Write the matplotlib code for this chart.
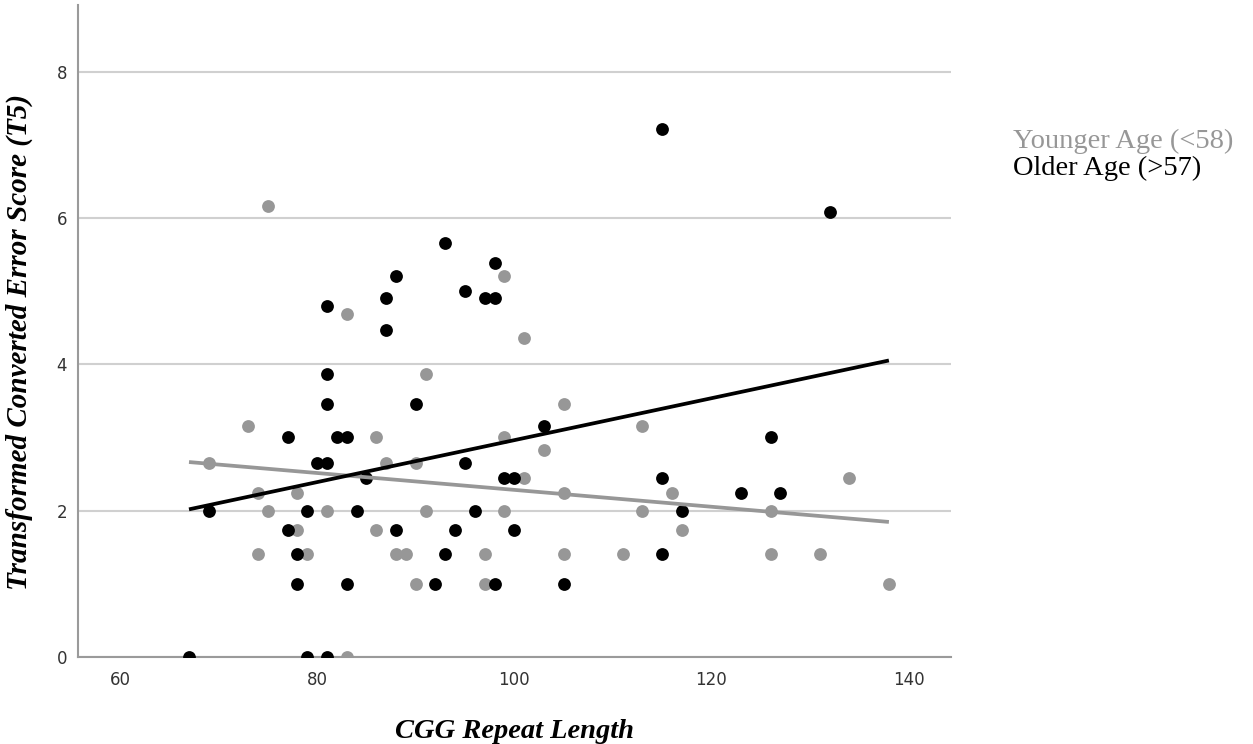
import numpy as np
import matplotlib
matplotlib.use('Agg')
import matplotlib.pyplot as plt

# Younger age group (<58): CGG repeat length vs transformed score
young_cgg = [69, 73, 74, 74, 75, 75, 78, 78, 79, 81, 83, 83, 86, 86, 87, 88, 89,
             90, 90, 91, 91, 97, 97, 99, 99, 99, 101, 101, 103, 105, 105, 105,
             111, 113, 113, 116, 117, 126, 126, 131, 134, 138]
young_score = [2.65, 3.16, 2.24, 1.41, 6.16, 2.0, 2.24, 1.73, 1.41, 2.0, 4.69, 0.0,
               3.0, 1.73, 2.65, 1.41, 1.41, 2.65, 1.0, 3.87, 2.0, 1.41, 1.0, 5.20,
               3.0, 2.0, 4.36, 2.45, 2.83, 3.46, 2.24, 1.41, 1.41, 3.16, 2.0, 2.24,
               1.73, 2.0, 1.41, 1.41, 2.45, 1.0]

# Older age group (>57)
old_cgg = [67, 69, 77, 77, 78, 78, 79, 79, 80, 81, 81, 81, 81, 81, 82, 83, 83,
           84, 85, 87, 87, 88, 88, 90, 92, 93, 93, 94, 95, 95, 96, 97, 98, 98,
           98, 99, 100, 100, 103, 105, 115, 115, 115, 117, 123, 126, 127, 132]
old_score = [0.0, 2.0, 3.0, 1.73, 1.41, 1.0, 2.0, 0.0, 2.65, 4.80, 3.87, 3.46, 2.65,
             0.0, 3.0, 3.0, 1.0, 2.0, 2.45, 4.90, 4.47, 5.20, 1.73, 3.46, 1.0,
             5.66, 1.41, 1.73, 5.0, 2.65, 2.0, 4.90, 5.39, 4.90, 1.0, 2.45, 2.45,
             1.73, 3.16, 1.0, 7.21, 2.45, 1.41, 2.0, 2.24, 3.0, 2.24, 6.08]

labels = ['Younger Age (<58)', 'Older Age (>57)']
gray = '#979797'

fig = plt.figure(figsize=(12.53, 7.44), dpi=100)
ax = fig.add_axes([78 / 1253, 87 / 744, (951 - 78) / 1253, (657 - 5) / 744])

ax.scatter(young_cgg, young_score, s=85, color=gray, linewidths=0, zorder=3)
ax.scatter(old_cgg, old_score, s=85, color='black', linewidths=0, zorder=3)

# linear fit lines over the whole x range
xr = np.array([min(young_cgg + old_cgg), max(young_cgg + old_cgg)])
for xs, ys, c in [(young_cgg, young_score, gray), (old_cgg, old_score, 'black')]:
    slope, icpt = np.polyfit(xs, ys, 1)
    ax.plot(xr, icpt + slope * xr, color=c, lw=2.7, zorder=4, solid_capstyle='butt')

ax.set_xlim(55.74, 144.3)
ax.set_ylim(0, 8.91)
ax.set_xticks([60, 80, 100, 120, 140])
ax.set_yticks([0, 2, 4, 6, 8])
ax.yaxis.grid(True, color='#d0d0d0', lw=1.5)
ax.set_axisbelow(True)
for s in ['top', 'right']:
    ax.spines[s].set_visible(False)
for s in ['left', 'bottom']:
    ax.spines[s].set_color('#9a9a9a')
    ax.spines[s].set_linewidth(1.5)
ax.tick_params(length=0, labelsize=12, labelcolor='#333333')
ax.tick_params(axis='x', pad=10)
ax.tick_params(axis='y', pad=8)

ax.set_xlabel('CGG Repeat Length', family='Liberation Serif', style='italic',
              weight='bold', fontsize=20.5, labelpad=22)
ax.set_ylabel('Transformed Converted Error Score (T5)', family='Liberation Serif',
              style='italic', weight='bold', fontsize=21)
ax.yaxis.set_label_coords(-0.052, 0.483)

fig.text(1013 / 1253, 1 - 141 / 744, labels[0], color=gray, family='Liberation Serif',
         fontsize=20.5, va='center')
fig.text(1013 / 1253, 1 - 168 / 744, labels[1], color='black', family='Liberation Serif',
         fontsize=20.5, va='center')

fig.savefig('out.png', dpi=100)
